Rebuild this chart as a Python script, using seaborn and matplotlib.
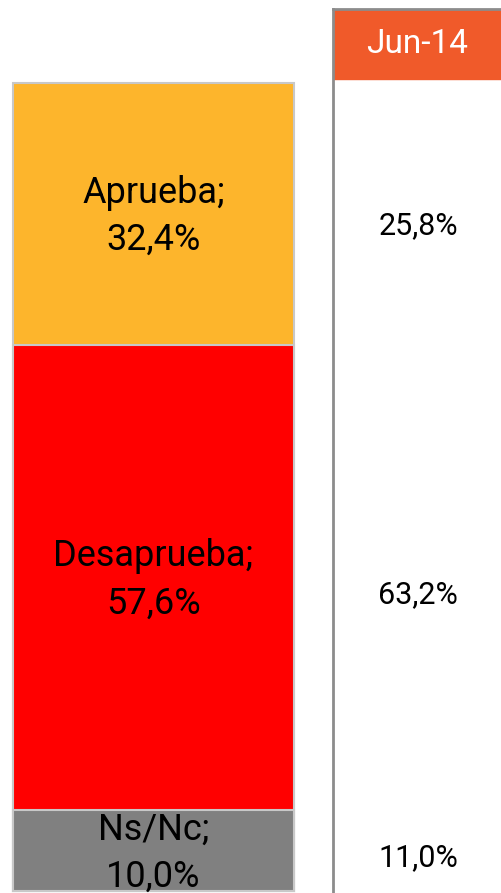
import numpy as np
import pandas as pd
import seaborn as sns
import matplotlib.pyplot as plt
from matplotlib.patches import Rectangle

# == data == #
categories = ['Aprueba', 'Desaprueba', 'Ns/Nc']
current = [32.4, 57.6, 10.0]
previous = [25.8, 63.2, 11.0]
prev_label = 'Jun-14'
colors = ['#FDB52C', '#FF0000', '#808080']

sns.set_style('white')
plt.rcParams['font.family'] = ['Roboto', 'DejaVu Sans']

fig = plt.figure(figsize=(5.02, 8.93), dpi=100)

# -- stacked bar (Aprueba on top, Ns/Nc at bottom) -- #
ax = fig.add_axes([13 / 502, 2 / 893, 281 / 502, 808 / 893])
cum = np.cumsum(current[::-1])[::-1]  # top of each segment from the bottom
df = pd.DataFrame({'g': ['x'] * 3, 'top': cum, 'cat': categories})
for i in range(3):
    sns.barplot(x=df['g'].iloc[[i]], y=df['top'].iloc[[i]], color=colors[i],
                width=1, edgecolor='#C8C8C8', linewidth=1.5, saturation=1,
                ax=ax, clip_on=False)
ax.set_xlim(-0.5, 0.5)
ax.set_ylim(0, 100)
ax.axis('off')

bottoms = list(cum[1:]) + [0]
for i, cat in enumerate(categories):
    mid = bottoms[i] + current[i] / 2
    ax.text(0, mid - 0.3, f'{cat};\n{current[i]:.1f}%'.replace('.', ','),
            ha='center', va='center', fontsize=26, color='black',
            linespacing=1.4, clip_on=False)

# -- previous survey column -- #
ax2 = fig.add_axes([333 / 502, 0, 169 / 502, 884 / 893])
ax2.set_xlim(0, 1)
ax2.set_ylim(0, 1)
ax2.set_xticks([])
ax2.set_yticks([])
for s in ['right', 'bottom']:
    ax2.spines[s].set_visible(False)
for s in ['left', 'top']:
    ax2.spines[s].set_color('#8C8C8C')
    ax2.spines[s].set_linewidth(2)
hdr = 70 / 884
ax2.add_patch(Rectangle((0, 1 - hdr), 1, hdr, color='#F05A2A', zorder=0))
ax2.text(0.5, 1 - hdr / 2, prev_label, ha='center', va='center',
         fontsize=24, color='white')

row_y = [226, 595, 858]
for v, y in zip(previous, row_y):
    fig.text(418 / 502, 1 - y / 893, f'{v:.1f}%'.replace('.', ','),
             ha='center', va='center', fontsize=22, color='black')

fig.savefig('out.png', dpi=100)
